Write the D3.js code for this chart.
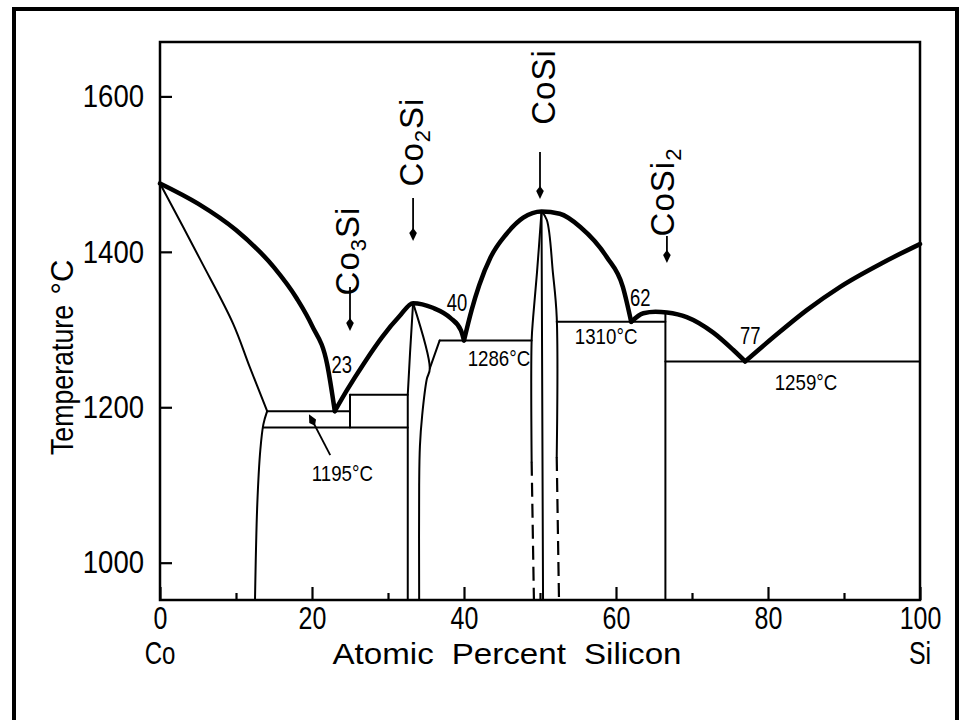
<!DOCTYPE html>
<html>
<head>
<meta charset="utf-8">
<script src="https://cdn.jsdelivr.net/npm/d3@7"></script>
<style>
  html, body { margin: 0; padding: 0; background: #fff; }
  svg { display: block; }
  text { font-family: "Liberation Sans", Arial, sans-serif; fill: #000; }
</style>
</head>
<body>
<svg id="chart" width="970" height="720"></svg>
<script>
// ---- Co–Si phase diagram data (x: at.% Si, y: temperature in °C) ----
const xTicksMajor = [0, 20, 40, 60, 80, 100];
const xTicksMinor = [10, 30, 50, 70, 90];
const yTicks = [1000, 1200, 1400, 1600];
const endMembers = ["Co", "Si"];
const xTitle = "Atomic Percent Silicon";
const yTitle = "Temperature";
const yUnit = "°C";

// Liquidus, split at the eutectic cusps
const liquidusCo     = [[0, 1488], [5, 1462], [10, 1428], [15, 1380], [18, 1340], [20, 1305], [22, 1255], [23, 1195]];
const liquidusCo2Si  = [[23, 1195], [24.6, 1222], [27.0, 1259], [29.2, 1290], [31.5, 1317], [33.3, 1334], [35.9, 1328], [38.2, 1315], [39.6, 1299], [40, 1286]];
const liquidusCoSi   = [[40, 1286], [41, 1325], [42, 1357], [43.5, 1393], [45.5, 1422], [47.8, 1444], [50.2, 1452], [52.6, 1449], [55.3, 1432], [58.8, 1393], [60.9, 1355], [62, 1310]];
const liquidusCoSi2  = [[62, 1310], [63.6, 1321], [65.2, 1323], [66.7, 1322], [69.3, 1316], [72.8, 1296], [75.4, 1274], [77, 1259]];
const liquidusSi     = [[77, 1259], [80.7, 1290], [85.1, 1325], [89.5, 1355], [95.1, 1386], [100, 1410]];

// Solidus / solvus and single-phase boundaries
const coSolidus   = [[0, 1488], [5.3, 1390], [9.6, 1308], [11.8, 1252], [14.1, 1195]];
const coSolvus    = [[14.1, 1195], [13.6, 1178], [13.2, 1145], [12.8, 1075], [12.5, 952]];
const co3SiLine   = [[25, 1174], [25, 1216]];
const co2SiLeft   = [[33.3, 1334], [32.9, 1270], [32.6, 1216], [32.6, 952]];
const co2SiRight  = [[33.3, 1334], [35.5, 1250], [35.1, 1236], [34.5, 1190], [34.2, 1150], [34.1, 1100], [34.1, 952]];
const co2SiHigh   = [[36.8, 1286], [35.5, 1250]];
const coSiLeft    = [[50.2, 1452], [49.6, 1373], [49.1, 1316], [48.9, 1286], [48.9, 1130]];
const coSiCenter  = [[50.2, 1452], [50.4, 952]];
const coSiRight   = [[50.2, 1452], [50.9, 1441], [51.7, 1373], [52.2, 1316], [52.2, 1136]];
const coSiLeftLow  = [[48.9, 1130], [49.2, 952]];
const coSiRightLow = [[52.2, 1136], [52.5, 952]];
const coSi2Line   = [[66.5, 1322], [66.5, 952]];

// Invariant (horizontal) lines: temperature, composition range
const isoTemps = [1195, 1216, 1174, 1286, 1310, 1259];
const isoFrom  = [14.1, 25, 13.55, 36.8, 52.2, 66.5];
const isoTo    = [25, 32.6, 32.6, 48.9, 66.5, 100];

// Labelled invariant temperatures and eutectic compositions
const labelTemps = [1195, 1286, 1310, 1259];
const eutecticComp = [23, 40, 62, 77];
const eutecticTemp = [1195, 1286, 1310, 1259];

// Intermetallic compounds
const compoundNames = ["Co3Si", "Co2Si", "CoSi", "CoSi2"];
const compoundComp  = [25, 33.3, 50, 66.7];

// ---- layout ----
const svg = d3.select("#chart");
const x = d3.scaleLinear().domain([0, 100]).range([160, 920]);
const y = d3.scaleLinear().domain([952, 1670]).range([600, 42]);

// narrow the lettering to a condensed drafting style
function condense(sel, f) {
  sel.each(function () {
    const w = this.getComputedTextLength();
    d3.select(this).attr("textLength", (w * f).toFixed(1)).attr("lengthAdjust", "spacingAndGlyphs");
  });
}
function fitTo(sel, w) {
  sel.attr("textLength", w).attr("lengthAdjust", "spacingAndGlyphs");
}

// outer frame
svg.append("path")
  .attr("d", "M14,724V9H957V724")
  .attr("fill", "none").attr("stroke", "#000").attr("stroke-width", 4);

// plot box
svg.append("rect")
  .attr("x", x(0)).attr("y", y(1670))
  .attr("width", x(100) - x(0)).attr("height", y(952) - y(1670))
  .attr("fill", "none").attr("stroke", "#000").attr("stroke-width", 2.5);

// axes
const gx = svg.append("g").attr("transform", `translate(0,${y(952)})`)
  .call(d3.axisBottom(x).tickValues(xTicksMajor).tickSizeInner(-13).tickSizeOuter(0).tickPadding(6).tickFormat(d3.format("d")));
const gxm = svg.append("g").attr("transform", `translate(0,${y(952)})`)
  .call(d3.axisBottom(x).tickValues(xTicksMinor).tickSizeInner(-7).tickSizeOuter(0).tickFormat(""));
const gy = svg.append("g").attr("transform", `translate(${x(0)},0)`)
  .call(d3.axisLeft(y).tickValues(yTicks).tickSizeInner(-12).tickSizeOuter(0).tickPadding(16).tickFormat(d3.format("d")));
[gx, gxm, gy].forEach(g => {
  g.attr("font-family", null).attr("font-size", null);
  g.select(".domain").remove();
  g.selectAll(".tick line").attr("stroke", "#000").attr("stroke-width", 2.2);
  g.selectAll(".tick text").attr("font-size", 32).attr("fill", "#000");
});
gxm.selectAll(".tick text").remove();
condense(gx.selectAll(".tick text"), 0.78);
condense(gy.selectAll(".tick text"), 0.86);

// axis titles
const coLab = svg.append("text").attr("x", x(0)).attr("y", 653).attr("dy", "0.35em")
  .attr("text-anchor", "middle").attr("font-size", 32).text(endMembers[0]);
const siLab = svg.append("text").attr("x", x(100)).attr("y", 653).attr("dy", "0.35em")
  .attr("text-anchor", "middle").attr("font-size", 32).text(endMembers[1]);
condense(coLab, 0.75);
condense(siLab, 0.78);
const xt = svg.append("text").attr("x", 507).attr("y", 653).attr("dy", "0.35em")
  .attr("text-anchor", "middle").attr("font-size", 30).attr("word-spacing", 8).text(xTitle);
fitTo(xt, 349);
const yt = svg.append("text").attr("transform", "translate(62,380) rotate(-90)").attr("dy", "0.35em")
  .attr("text-anchor", "middle").attr("font-size", 31).text(yTitle);
fitTo(yt, 150);
svg.append("text").attr("transform", "translate(62,277) rotate(-90)").attr("dy", "0.35em")
  .attr("text-anchor", "middle").attr("font-size", 31).text(yUnit);

// ---- curves ----
const plot = svg.append("g").attr("fill", "none").attr("stroke", "#000")
  .attr("stroke-linejoin", "round").attr("stroke-linecap", "round");
const lineMX = d3.line().x(d => x(d[0])).y(d => y(d[1])).curve(d3.curveMonotoneX);
const lineCR = d3.line().x(d => x(d[0])).y(d => y(d[1])).curve(d3.curveCatmullRom.alpha(0.5));
const lineL  = d3.line().x(d => x(d[0])).y(d => y(d[1]));

// thin boundaries
[coSolidus, coSolvus].forEach(p => plot.append("path").attr("d", lineCR(p)).attr("stroke-width", 2));
[co3SiLine, co2SiLeft, co2SiHigh, coSiCenter, coSi2Line].forEach(p =>
  plot.append("path").attr("d", lineL(p)).attr("stroke-width", 2));
[co2SiRight, coSiLeft, coSiRight].forEach(p => plot.append("path").attr("d", lineCR(p)).attr("stroke-width", 2));
[coSiLeftLow, coSiRightLow].forEach(p =>
  plot.append("path").attr("d", lineL(p)).attr("stroke-width", 2.2).attr("stroke-dasharray", "14,7").attr("stroke-linecap", "butt"));

// invariant lines
isoTemps.forEach((t, i) => {
  plot.append("path").attr("d", lineL([[isoFrom[i], t], [isoTo[i], t]])).attr("stroke-width", 2);
});

// liquidus (heavy)
[liquidusCo, liquidusCo2Si, liquidusCoSi, liquidusCoSi2, liquidusSi].forEach(p =>
  plot.append("path").attr("d", lineMX(p)).attr("stroke-width", 4.5));

// ---- annotations ----
function arrow(x0, y0, x1, y1) {
  const dx = x1 - x0, dy = y1 - y0, L = Math.hypot(dx, dy);
  const ux = dx / L, uy = dy / L, nx = -uy, ny = ux;
  svg.append("line").attr("x1", x0).attr("y1", y0)
    .attr("x2", x1 - ux * 8).attr("y2", y1 - uy * 8)
    .attr("stroke", "#000").attr("stroke-width", 1.8);
  const pts = [
    [x1, y1],
    [x1 - ux * 8 + nx * 3.8, y1 - uy * 8 + ny * 3.8],
    [x1 - ux * 13, y1 - uy * 13],
    [x1 - ux * 8 - nx * 3.8, y1 - uy * 8 - ny * 3.8]
  ];
  svg.append("path").attr("d", "M" + pts.map(p => p.join(",")).join("L") + "Z").attr("fill", "#000");
}

// compound markers: rotated formula (digits as subscripts) with a downward arrow
const markerLayout = [
  { base: 9,  cy: 251, tail: 287, tip: 331 },
  { base: 10, cy: 142, tail: 198, tip: 241 },
  { base: 15, cy: 87,  tail: 152, tip: 199 },
  { base: 7,  cy: 192, tail: 236, tip: 263 }
];
compoundNames.forEach((name, i) => {
  const cx = x(compoundComp[i]);
  const m = markerLayout[i];
  const t = svg.append("text")
    .attr("transform", `translate(${cx + m.base},${m.cy}) rotate(-90)`)
    .attr("text-anchor", "middle").attr("font-size", 33).attr("letter-spacing", 1);
  let shifted = false;
  name.split(/(\d)/).filter(s => s.length).forEach(part => {
    if (/^\d$/.test(part)) {
      t.append("tspan").attr("font-size", 22).attr("dy", 7).text(part);
      shifted = true;
    } else {
      const ts = t.append("tspan").text(part);
      if (shifted) { ts.attr("dy", -7); shifted = false; }
    }
  });
  arrow(cx, m.tail, cx, m.tip);
});

// eutectic compositions
const eutLabelOffset = [[7, -46], [-7, -37], [9, -24], [5, -25]];
eutecticComp.forEach((c, i) => {
  const t = svg.append("text").attr("x", x(c) + eutLabelOffset[i][0]).attr("y", y(eutecticTemp[i]) + eutLabelOffset[i][1])
    .attr("dy", "0.35em").attr("text-anchor", "middle").attr("font-size", 23).text(d3.format("d")(c));
  condense(t, 0.8);
});

// invariant temperatures
const tempLabelPos = [[24, 62], [44.6, 18], [58.7, 15], [85, 21]];
labelTemps.forEach((t, i) => {
  const lab = svg.append("text").attr("x", x(tempLabelPos[i][0])).attr("y", y(t) + tempLabelPos[i][1])
    .attr("dy", "0.35em").attr("text-anchor", "middle").attr("font-size", 22).text(t + "°C");
  condense(lab, 0.85);
});
// pointer for the 1195 °C eutectic
arrow(x(22.4), y(1195) + 44, x(19.6), y(1195) + 3);
</script>
</body>
</html>
